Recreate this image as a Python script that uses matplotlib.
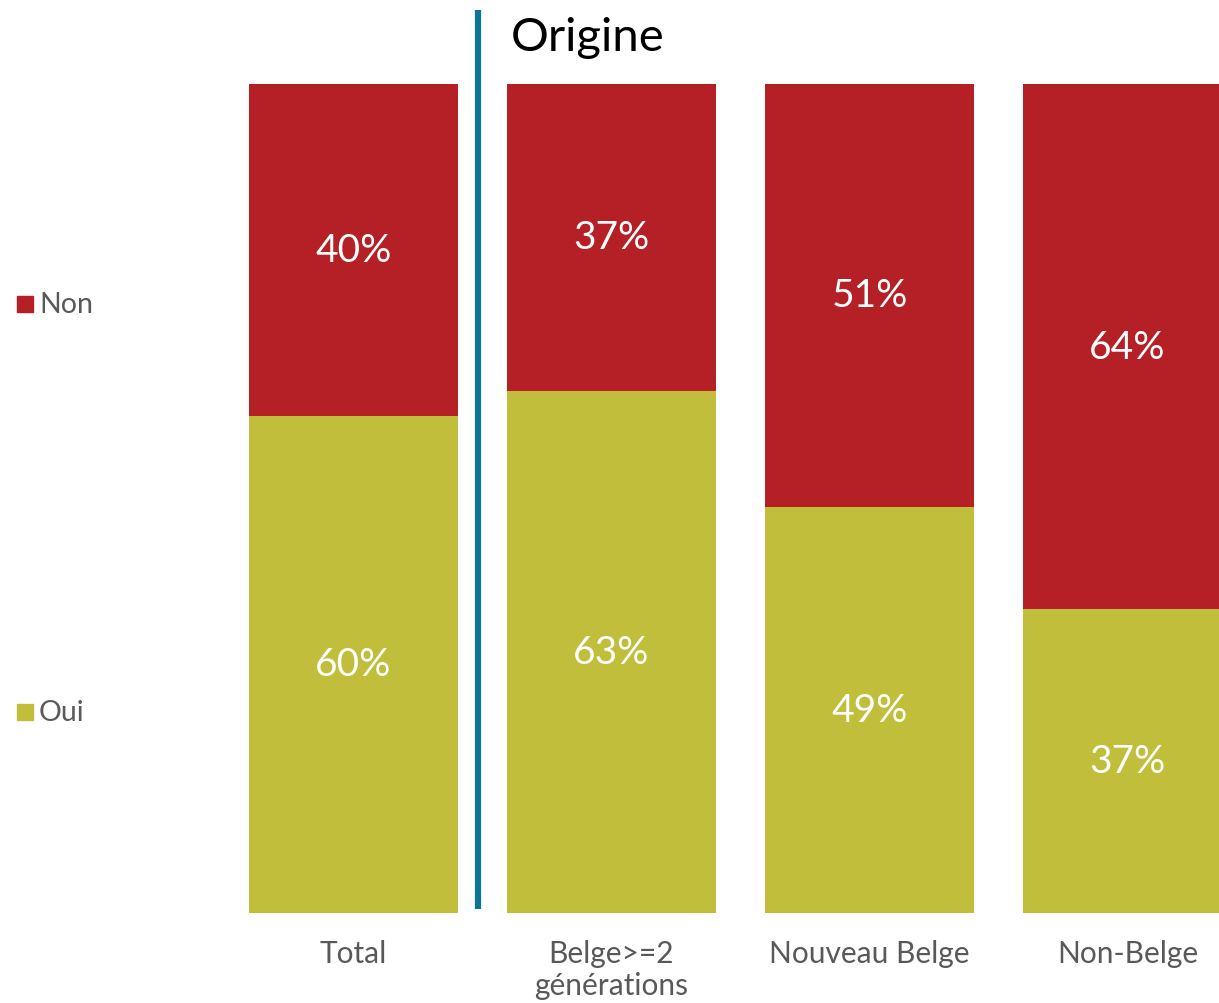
import numpy as np
import matplotlib
matplotlib.use("Agg")
import matplotlib.pyplot as plt
from matplotlib.patches import Rectangle

categories = ["Total", "Belge>=2\ngénérations", "Nouveau Belge", "Non-Belge"]
oui = [60, 63, 49, 37]
non = [40, 37, 51, 64]

red = "#B52026"
olive = "#C0BE3A"
grey = "#595959"

plt.rcParams["font.family"] = ["Lato", "DejaVu Sans"]

oui_a = np.array(oui, dtype=float)
non_a = np.array(non, dtype=float)
tot = oui_a + non_a
oui_f = oui_a / tot
non_f = non_a / tot

fig = plt.figure(figsize=(12.19, 10.04), dpi=100)
ax = fig.add_axes([249 / 1219, 1 - 914 / 1004, 970 / 1219, 829 / 1004])

x = np.arange(len(categories))
w = 0.81
ax.bar(x, oui_f, width=w, color=olive)
ax.bar(x, non_f, width=w, bottom=oui_f, color=red)

for i in range(len(categories)):
    ax.text(x[i], oui_f[i] / 2, f"{oui[i]}%", ha="center", va="center",
            color="white", fontsize=28)
    ax.text(x[i], oui_f[i] + non_f[i] / 2, f"{non[i]}%", ha="center", va="center",
            color="white", fontsize=28)
    ax.text(x[i], -0.031, categories[i], ha="center", va="top", color=grey,
            fontsize=21.5, linespacing=1.2)

ax.set_xlim(-w / 2, (1219 - 353.5) / 258)
ax.set_ylim(0, 1)
ax.axis("off")

# separator between Total and the "Origine" group
ax.plot([0.4826, 0.4826], [0.005, 1.089], color="#0E7496", lw=4.5,
        clip_on=False, solid_capstyle="butt")
ax.text(0.61, 1.057, "Origine", ha="left", va="center", fontsize=34, color="black")

# legend on the left
for label, col, ypix in [("Non", red, 305), ("Oui", olive, 713)]:
    yf = 1 - ypix / 1004
    fig.patches.append(Rectangle((17 / 1219, yf - 8 / 1004), 16 / 1219, 16 / 1004,
                                 transform=fig.transFigure, color=col))
    fig.text(39 / 1219, yf, label, ha="left", va="center", color=grey, fontsize=20.5)

fig.savefig("out.png", dpi=100)
